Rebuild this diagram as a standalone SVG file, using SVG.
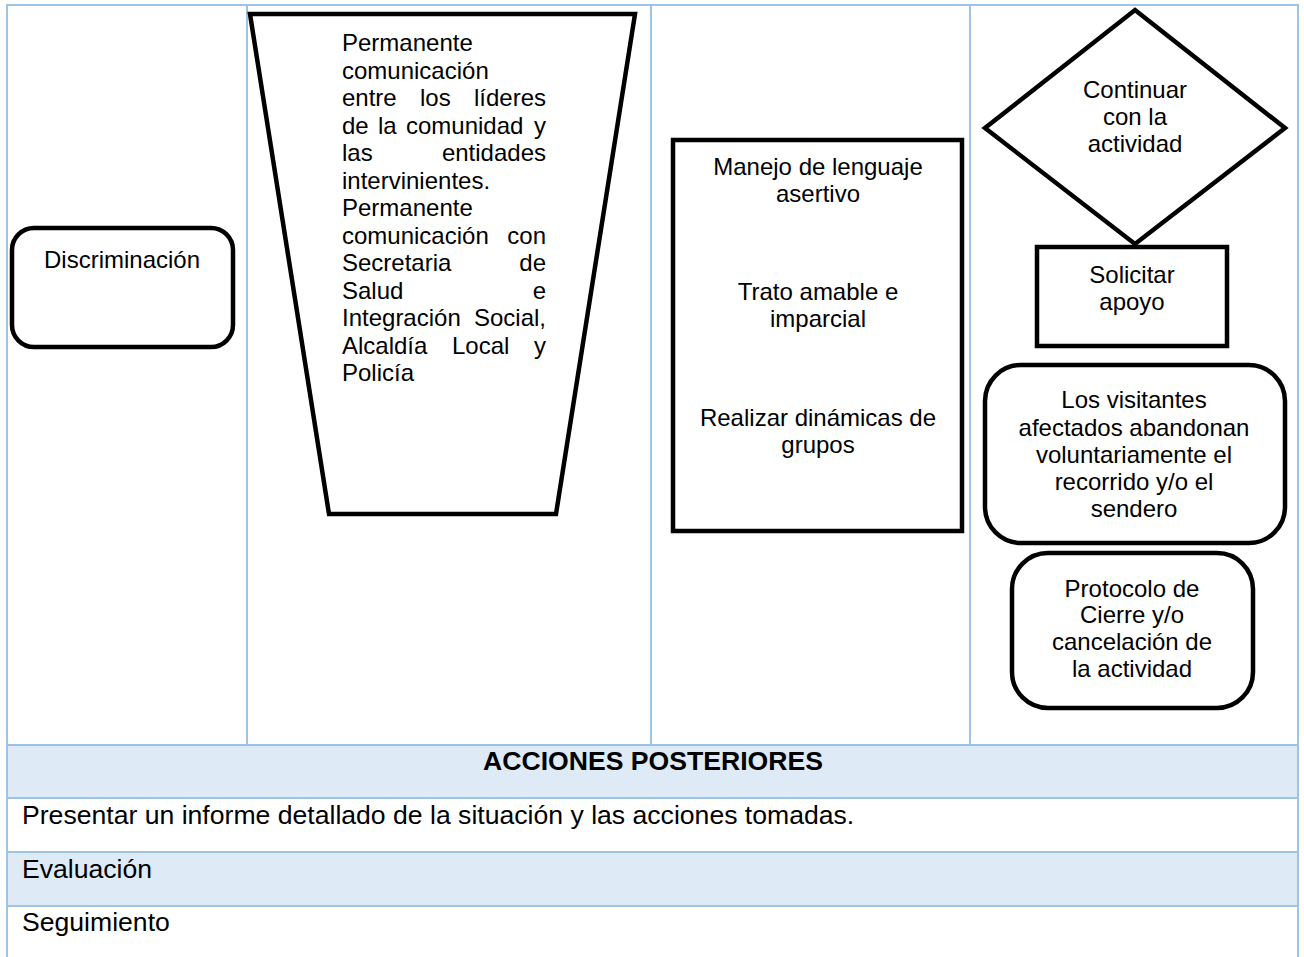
<svg xmlns="http://www.w3.org/2000/svg" width="1304" height="957" viewBox="0 0 1304 957">
<style>
.grid{stroke:#9DC3E6;stroke-width:2;fill:none}
.band{fill:#DEEAF6}
.shape{fill:#fff;stroke:#000;stroke-width:4.5;stroke-linejoin:miter}
.t{font-family:"Liberation Sans",Arial,sans-serif;font-size:24px;fill:#000}
.c{text-anchor:middle}
.e{text-anchor:end}
.b{font-family:"Liberation Sans",Arial,sans-serif;font-size:26.6px;fill:#000}
.bold{font-weight:bold}
</style>
<rect width="1304" height="957" fill="#fff"/>
<g id="table">
<rect class="band" x="7" y="745" width="1291" height="53"/>
<rect class="band" x="7" y="852" width="1291" height="54"/>
<line class="grid" x1="6" y1="5" x2="1299" y2="5"/>
<line class="grid" x1="7" y1="5" x2="7" y2="957"/>
<line class="grid" x1="1298" y1="5" x2="1298" y2="957"/>
<line class="grid" x1="247" y1="5" x2="247" y2="745"/>
<line class="grid" x1="651" y1="5" x2="651" y2="745"/>
<line class="grid" x1="970" y1="5" x2="970" y2="745"/>
<line class="grid" x1="7" y1="745" x2="1298" y2="745"/>
<line class="grid" x1="7" y1="798" x2="1298" y2="798"/>
<line class="grid" x1="7" y1="852" x2="1298" y2="852"/>
<line class="grid" x1="7" y1="906" x2="1298" y2="906"/>
<text class="b bold c" x="653" y="770">ACCIONES POSTERIORES</text>
<text class="b" x="22" y="824">Presentar un informe detallado de la situación y las acciones tomadas.</text>
<text class="b" x="22" y="878">Evaluación</text>
<text class="b" x="22" y="931">Seguimiento</text>
</g>
<g id="node-discriminacion">
<rect class="shape" x="12" y="228" width="221" height="119" rx="22" ry="22"/>
<text class="t c" x="122" y="268">Discriminación</text>
</g>
<g id="node-comunicacion">
<polygon class="shape" points="250,14 635,14 556,514 329,514"/>
<text class="t" x="342" y="51">Permanente</text>
<text class="t" x="342" y="78.5">comunicación</text>
<text class="t" y="106"><tspan x="342">entre</tspan><tspan x="420">los</tspan><tspan x="546" text-anchor="end">líderes</tspan></text>
<text class="t" y="133.5"><tspan x="342">de</tspan><tspan x="378">la</tspan><tspan x="406">comunidad</tspan><tspan x="546" text-anchor="end">y</tspan></text>
<text class="t" y="161"><tspan x="342">las</tspan><tspan x="546" text-anchor="end">entidades</tspan></text>
<text class="t" x="342" y="188.5">intervinientes.</text>
<text class="t" x="342" y="216">Permanente</text>
<text class="t" y="243.5"><tspan x="342">comunicación</tspan><tspan x="546" text-anchor="end">con</tspan></text>
<text class="t" y="271"><tspan x="342">Secretaria</tspan><tspan x="546" text-anchor="end">de</tspan></text>
<text class="t" y="298.5"><tspan x="342">Salud</tspan><tspan x="546" text-anchor="end">e</tspan></text>
<text class="t" y="326"><tspan x="342">Integración</tspan><tspan x="546" text-anchor="end">Social,</tspan></text>
<text class="t" y="353.5"><tspan x="342">Alcaldía</tspan><tspan x="452">Local</tspan><tspan x="546" text-anchor="end">y</tspan></text>
<text class="t" x="342" y="381">Policía</text>
</g>
<g id="node-acciones">
<rect class="shape" x="673" y="140" width="289" height="391"/>
<text class="t c" x="818" y="175">Manejo de lenguaje</text>
<text class="t c" x="818" y="202">asertivo</text>
<text class="t c" x="818" y="300">Trato amable e</text>
<text class="t c" x="818" y="327">imparcial</text>
<text class="t c" x="818" y="426">Realizar dinámicas de</text>
<text class="t c" x="818" y="453">grupos</text>
</g>
<g id="node-continuar">
<polygon class="shape" points="1135,10 1285,128 1135,244 985,128"/>
<text class="t c" x="1135" y="98">Continuar</text>
<text class="t c" x="1135" y="125">con la</text>
<text class="t c" x="1135" y="152">actividad</text>
</g>
<g id="node-solicitar">
<rect class="shape" x="1037" y="247" width="190" height="99"/>
<text class="t c" x="1132" y="283">Solicitar</text>
<text class="t c" x="1132" y="310">apoyo</text>
</g>
<g id="node-visitantes">
<rect class="shape" x="985" y="365" width="300" height="178" rx="36" ry="36"/>
<text class="t c" x="1134" y="408">Los visitantes</text>
<text class="t c" x="1134" y="436">afectados abandonan</text>
<text class="t c" x="1134" y="463">voluntariamente el</text>
<text class="t c" x="1134" y="490">recorrido y/o el</text>
<text class="t c" x="1134" y="517">sendero</text>
</g>
<g id="node-protocolo">
<rect class="shape" x="1012" y="553" width="241" height="155" rx="36" ry="36"/>
<text class="t c" x="1132" y="597">Protocolo de</text>
<text class="t c" x="1132" y="623">Cierre y/o</text>
<text class="t c" x="1132" y="650">cancelación de</text>
<text class="t c" x="1132" y="677">la actividad</text>
</g>
<g id="connectors"></g>
</svg>
